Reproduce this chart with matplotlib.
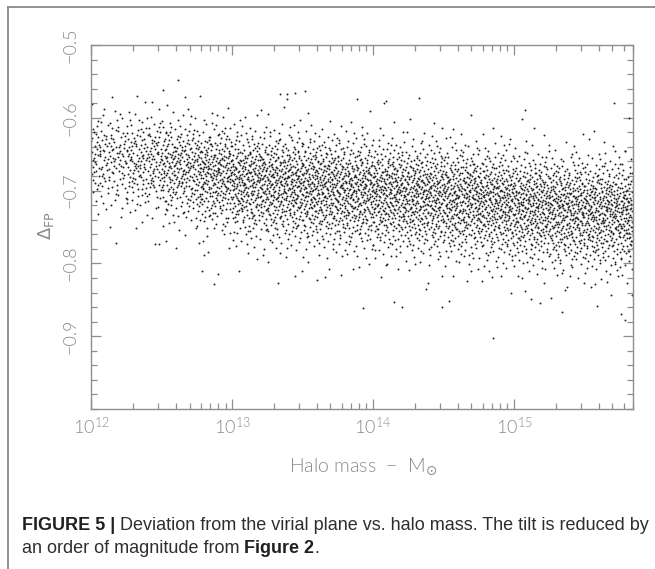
import numpy as np
import matplotlib
matplotlib.use("Agg")
import matplotlib.pyplot as plt
from matplotlib import font_manager
from matplotlib.lines import Line2D
from matplotlib.ticker import FixedLocator, MultipleLocator, LogLocator, LogFormatterMathtext, NullFormatter
from statistics import NormalDist

# ---------------- data ----------------
# Dense cloud, summarised per halo-mass bin (log10 M / Msun)
bin_lo_logm = [12.0, 12.25, 12.5, 12.75, 13.0, 13.25, 13.5, 13.75, 14.0, 14.25, 14.5, 14.75, 15.0, 15.25, 15.5, 15.75]
bin_hi_logm = [12.25, 12.5, 12.75, 13.0, 13.25, 13.5, 13.75, 14.0, 14.25, 14.5, 14.75, 15.0, 15.25, 15.5, 15.75, 15.85]
bin_median = [-0.655, -0.660, -0.668, -0.678, -0.688, -0.693, -0.697, -0.701,
              -0.705, -0.708, -0.712, -0.717, -0.722, -0.726, -0.729, -0.731]
bin_sigma_up = [0.033, 0.034, 0.035, 0.036, 0.037, 0.038, 0.038, 0.038,
                0.038, 0.038, 0.038, 0.038, 0.038, 0.038, 0.038, 0.038]
bin_sigma_down = [0.036, 0.038, 0.040, 0.041, 0.042, 0.043, 0.043, 0.043,
                  0.043, 0.043, 0.043, 0.043, 0.043, 0.043, 0.043, 0.043]
bin_count = [140, 180, 230, 280, 310, 320, 320, 320, 320, 320, 320, 320, 320, 320, 320, 130]

# Individually readable sparse points outside the dense cloud
outlier_logm = [12.15, 12.62, 12.51, 12.43, 13.34, 13.39, 13.45, 13.52, 13.89, 14.09, 14.33,
                15.08, 15.71, 12.18, 12.80, 12.79, 12.87, 12.48, 13.45, 13.60, 13.93,
                14.15, 14.49, 14.85, 15.34, 15.59, 15.76, 15.12]
outlier_delta = [-0.571, -0.548, -0.562, -0.578, -0.567, -0.567, -0.566, -0.563, -0.574, -0.577, -0.573,
                 -0.589, -0.580, -0.772, -0.788, -0.810, -0.828, -0.773, -0.817, -0.823, -0.861,
                 -0.853, -0.860, -0.902, -0.867, -0.858, -0.869, -0.849]

yticks_major = [-0.9, -0.8, -0.7, -0.6, -0.5]
x_limits = [1e12, 7e15]
y_limits = [-1.0, -0.5]

caption_line1 = [("FIGURE 5 |", True), (" ", False),
                 ("Deviation from the virial plane vs. halo mass. The tilt is reduced by", False)]
caption_line2 = [("an order of magnitude from", False), (" ", False), ("Figure 2", True), (".", False)]

# ---------------- place the cloud from the bin summaries (Halton 2-3 points) ----------------
def halton(i, b):
    f, r = 1.0, 0.0
    while i > 0:
        f /= b
        r += f * (i % b)
        i //= b
    return r

nd = NormalDist()
xs, ys = [], []
k = 1
for lo, hi, med, su, sd, n in zip(bin_lo_logm, bin_hi_logm, bin_median,
                                  bin_sigma_up, bin_sigma_down, bin_count):
    for _ in range(n):
        u = halton(k, 2)
        v = min(max(halton(k, 3), 1e-4), 1 - 1e-4)
        z = nd.inv_cdf(v)
        xs.append(lo + u * (hi - lo))
        ys.append(med + (su if z > 0 else sd) * z)
        k += 1
xs = xs + outlier_logm
ys = ys + outlier_delta
mass = 10.0 ** np.array(xs)
delta = np.array(ys)

# ---------------- fonts ----------------
def find_light():
    for fam in ["Lato", "Roboto", "Open Sans", "Inter", "Noto Sans"]:
        for fe in font_manager.fontManager.ttflist:
            if fe.name == fam and fe.style == "normal":
                w = fe.weight
                if isinstance(w, str):
                    w = font_manager.weight_dict.get(w, 400)
                if w == 300:
                    return fam
    return None

light = find_light()
if light:
    tick_fp = font_manager.FontProperties(family=light, weight=300, size=13)
    xlab_fp = font_manager.FontProperties(family=light, weight=300, size=14)
    plt.rcParams["mathtext.fontset"] = "custom"
    plt.rcParams["mathtext.rm"] = f"{light}:weight=light"
    plt.rcParams["mathtext.it"] = f"{light}:weight=light"
else:
    tick_fp = font_manager.FontProperties(family="DejaVu Sans", size=13)
    xlab_fp = font_manager.FontProperties(family="DejaVu Sans", size=13)

W, H = 655, 569
fig = plt.figure(figsize=(W / 100, H / 100), dpi=100)
fig.patch.set_facecolor("white")

# axes: left 91, right 633, top 45, bottom 409 (pixels)
L, R, T, B = 91, 633, 45, 409
ax = fig.add_axes([L / W, 1 - B / H, (R - L) / W, (B - T) / H])
ax.plot(mass, delta, "o", ms=1.4, mew=0, color="#222222")
ax.set_xscale("log")
ax.set_xlim(*x_limits)
ax.set_ylim(*y_limits)

axis_col = "#8e8e8e"
label_col = "#8a8a8a"
for s in ax.spines.values():
    s.set_color(axis_col)
    s.set_linewidth(1.0)

ax.xaxis.set_major_locator(LogLocator(base=10))
ax.xaxis.set_minor_locator(LogLocator(base=10, subs=np.arange(2, 10)))
ax.xaxis.set_major_formatter(LogFormatterMathtext())
ax.xaxis.set_minor_formatter(NullFormatter())
ax.yaxis.set_major_locator(FixedLocator(yticks_major))
ax.yaxis.set_minor_locator(MultipleLocator(0.02))
ax.yaxis.set_major_formatter(plt.FuncFormatter(lambda v, p: f"{v:.1f}".replace("-", "\u2212")))

ax.tick_params(which="both", direction="in", top=True, right=True, color=axis_col,
               width=0.9, labelcolor=label_col)
ax.tick_params(which="major", length=7.5)
ax.tick_params(which="minor", length=4.0)
ax.tick_params(axis="x", which="major", pad=5)
ax.tick_params(axis="y", which="major", pad=9)
for lab in ax.get_yticklabels():
    lab.set_fontproperties(tick_fp)
    lab.set_rotation(90)
    lab.set_va("center")
for lab in ax.get_xticklabels():
    lab.set_fontproperties(tick_fp)

# axis labels
fig.text(363 / W, 1 - 467 / H, "Halo mass  \u2212  M$_{\\odot}$", ha="center", va="center",
         color=label_col, fontproperties=xlab_fp)
fig.text(46 / W, 1 - 226 / H, r"$\Delta_{\rm FP}$", ha="center", va="center", rotation=90,
         color=label_col, fontproperties=tick_fp)

# frame around the figure image
fc = "#8a8a8a"
fig.add_artist(Line2D([7.5 / W, 7.5 / W], [0, 1 - 6.5 / H], transform=fig.transFigure, color=fc, lw=1.3))
fig.add_artist(Line2D([7.5 / W, 1], [1 - 6.5 / H, 1 - 6.5 / H], transform=fig.transFigure, color=fc, lw=1.3))

# caption with mixed bold runs
fig.canvas.draw()
rend = fig.canvas.get_renderer()

def text_w(s, size, bold):
    t = fig.text(0, 0, s, fontsize=size, family="Liberation Sans", fontweight="bold" if bold else "normal")
    w = t.get_window_extent(rend).width
    t.remove()
    return w

def run_width(runs, size):
    sp = text_w("x x", size, False) - text_w("xx", size, False)
    tot = 0
    for s, b in runs:
        tot += sp if s == " " else text_w(s, size, b)
    return tot

size = 12.0
w1 = run_width(caption_line1, size)
size = size * (647 - 22) / w1

def place(runs, x0, base):
    sp = text_w("x x", size, False) - text_w("xx", size, False)
    x = x0
    for s, b in runs:
        if s == " ":
            x += sp
            continue
        t = fig.text(x / W, 1 - base / H, s, fontsize=size, family="Liberation Sans",
                     fontweight="bold" if b else "normal", color="#231f20" if b else "#2e2e2e",
                     ha="left", va="baseline")
        x += t.get_window_extent(rend).width

place(caption_line1, 22, 530)
place(caption_line2, 22, 553)

fig.savefig("out.png", dpi=100, facecolor="white")
